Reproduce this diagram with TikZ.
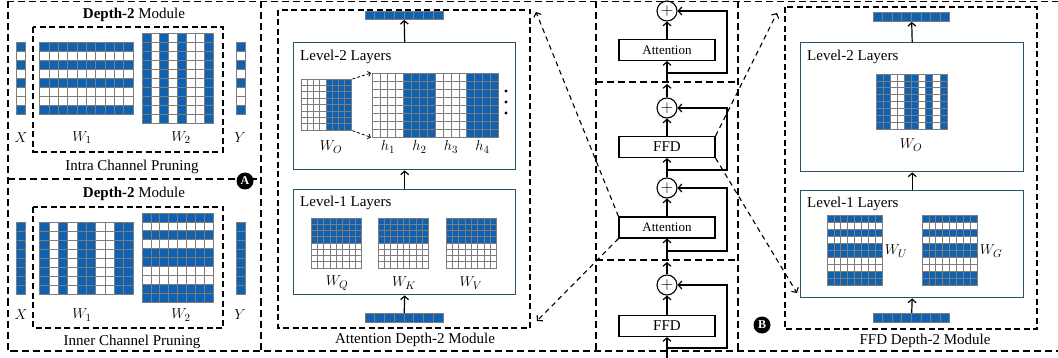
\documentclass[tikz,border=0pt]{standalone}
\usepackage{fontspec}
\setmainfont{Liberation Serif}
\usetikzlibrary{arrows.meta,calc}
\definecolor{bl}{RGB}{16,98,176}
\definecolor{cellgray}{RGB}{125,125,125}
\definecolor{boxc}{RGB}{40,82,102}
\newcommand\rowgrid[6]{%
 \foreach \gcol [count=\gi from 0] in {#6}{%
  \foreach \gj in {1,...,#5}{%
   \draw[cellst,fill=\gcol] ({#1+(\gj-1)*#3},{#2+\gi*#4}) rectangle ++(#3,#4);}}}
\newcommand\colgrid[6]{%
 \foreach \gcol [count=\gi from 0] in {#6}{%
  \foreach \gj in {1,...,#5}{%
   \draw[cellst,fill=\gcol] ({#1+\gi*#3},{#2+(\gj-1)*#4}) rectangle ++(#3,#4);}}}
\tikzset{
 frameln/.style={dash pattern=on 7pt off 4pt, line width=1.4pt},
 innerdash/.style={dash pattern=on 6pt off 3.5pt, line width=1.2pt},
 cellst/.style={draw=cellgray, line width=0.7pt},
 lvl/.style={draw=boxc, line width=1.4pt, fill=white, inner sep=0, anchor=north west},
 blk/.style={draw=black, line width=1.1pt, inner sep=0, minimum width=96pt, minimum height=21pt},
 sumc/.style={circle, draw=black, line width=1.1pt, minimum size=20pt, inner sep=0, font=\fontsize{16}{16}\selectfont},
 arr/.style={-{Straight Barb[length=3.5pt,width=8pt]}, line width=1.2pt},
 darr/.style={-{Straight Barb[length=3.5pt,width=8pt]}, line width=1.1pt, dash pattern=on 5pt off 4pt},
 sdarr/.style={-{Straight Barb[length=2.5pt,width=5pt]}, line width=0.8pt, dash pattern=on 3pt off 2pt},
 txt/.style={inner sep=0, font=\fontsize{15}{18}\selectfont},
 badge/.style={circle, fill=black, text=white, inner sep=0, minimum size=17pt, font=\fontsize{12}{12}\selectfont\bfseries},
 ghost/.style={inner sep=0, anchor=north west, draw=none},
}
\begin{document}
\begin{tikzpicture}[x=1pt,y=-1pt]
\useasboundingbox (0,0) rectangle (1058,358);
% ---------- frame ----------
\draw[frameln] (8,1.5) rectangle (1075,351);
\draw[frameln] (8,179) -- (261,179);
\draw[frameln] (261,1.5) -- (261,351);
\draw[frameln] (596,1.5) -- (596,351);
\draw[frameln] (738,1.5) -- (738,351);
\draw[frameln] (596,82) -- (738,82);
\draw[frameln] (596,260) -- (738,260);
% ---------- left panel: intra ----------
\node[txt] (d2a) at (134,15) {\textbf{Depth-2} Module};
\draw[innerdash] (33,27) rectangle (223,152);
\rowgrid{16.5}{42}{8.6}{9.1}{1}{bl,white,bl,white,bl,white,white,bl}
\rowgrid{39.5}{42}{9.35}{9.1}{10}{bl,white,bl,white,bl,white,white,bl}
\colgrid{142}{33}{8.9}{9}{10}{bl,white,bl,white,bl,white,white,bl}
\rowgrid{236.5}{42}{8.6}{9.1}{1}{bl,white,bl,white,bl,white,white,bl}
\node[txt] (x1) at (21,138) {$X$};
\node[txt] (w1a) at (82,138) {$W_1$};
\node[txt] (w2a) at (181,138) {$W_2$};
\node[txt] (y1) at (240,138) {$Y$};
\node[txt] (intra) at (132,167) {Intra Channel Pruning};
% ---------- left panel: inner ----------
\node[txt] (d2b) at (134,194) {\textbf{Depth-2} Module};
\draw[innerdash] (33,207) rectangle (223,328);
\rowgrid{16.5}{222}{8.6}{9.1}{1}{bl,bl,bl,bl,bl,bl,bl,bl}
\colgrid{39.5}{222}{9.35}{9.1}{8}{bl,white,bl,white,bl,bl,white,white,bl,bl}
\rowgrid{142}{213}{8.9}{8.9}{8}{bl,white,bl,white,bl,bl,white,white,bl,bl}
\rowgrid{236.5}{222}{8.6}{9.1}{1}{bl,bl,bl,bl,bl,bl,bl,bl}
\node[txt] (x2) at (21,315) {$X$};
\node[txt] (w1b) at (82,315) {$W_1$};
\node[txt] (w2b) at (181,315) {$W_2$};
\node[txt] (y2) at (240,315) {$Y$};
\node[txt] (inner) at (132,342) {Inner Channel Pruning};
\node[badge] (bA) at (245,181) {A};
% ---------- attention panel ----------
\draw[innerdash] (278,10) rectangle (530,328);
\node[txt] (aLab) at (415,340) {Attention Depth-2 Module};
\node[ghost, minimum width=78pt, minimum height=8.5pt] (aTop) at (365,11) {};
\rowgrid{365}{11}{9.75}{8.5}{8}{bl}
\node[lvl, minimum width=222pt, minimum height=127pt] (aL2) at (293,42) {};
\node[txt, anchor=west] (aL2t) at (300,57) {Level-2 Layers};
\node[ghost, minimum width=50pt, minimum height=51.2pt] (aWO) at (301,79) {};
\colgrid{301}{79}{6.25}{6.4}{8}{white,white,white,white,bl,bl,bl,bl}
\node[ghost, minimum width=126.4pt, minimum height=64pt] (aH) at (372,73) {};
\colgrid{372}{73}{7.9}{8}{8}{white,white,white,white,bl,bl,bl,bl,white,white,white,white,bl,bl,bl,bl}
\draw[sdarr] ([xshift=1pt]aWO.north east) -- ([xshift=-1pt]aH.north west);
\draw[sdarr] ([xshift=1pt]aWO.south east) -- ([xshift=-1pt]aH.south west);
\fill (506,91) circle (1.7);
\fill (506,102) circle (1.7);
\fill (506,113) circle (1.7);
\node[txt] (aWOl) at (331,147) {$W_O$};
\node[txt] (h1) at (388,147) {$h_1$};
\node[txt] (h2) at (419.5,147) {$h_2$};
\node[txt] (h3) at (451,147) {$h_3$};
\node[txt] (h4) at (482.5,147) {$h_4$};
\node[lvl, minimum width=222pt, minimum height=105pt] (aL1) at (293,189) {};
\node[txt, anchor=west] (aL1t) at (300,203) {Level-1 Layers};
\rowgrid{311}{218}{6.35}{6.25}{8}{bl,bl,bl,bl,white,white,white,white}
\rowgrid{378}{218}{6.35}{6.25}{8}{bl,bl,bl,bl,white,white,white,white}
\rowgrid{446}{218}{6.35}{6.25}{8}{bl,bl,bl,bl,white,white,white,white}
\node[txt] (wq) at (337,283) {$W_Q$};
\node[txt] (wk) at (404,283) {$W_K$};
\node[txt] (wv) at (471,283) {$W_V$};
\node[ghost, minimum width=78pt, minimum height=9pt] (aBot) at (365,313) {};
\rowgrid{365}{313}{9.75}{9}{8}{bl}
\draw[arr] (aL2.north) -- (aTop.south);
\draw[arr] (aL1.north) -- (aL2.south);
\draw[arr] (aBot.north) -- (aL1.south);
% ---------- center column ----------
\node[sumc] (s1) at (667,11) {$+$};
\node[blk, font=\fontsize{13}{15}\selectfont] (att1) at (667,50) {Attention};
\node[sumc] (s2) at (667,108) {$+$};
\node[blk, font=\fontsize{15}{18}\selectfont] (ffd1) at (667,147) {FFD};
\node[sumc] (s3) at (667,188) {$+$};
\node[blk, font=\fontsize{13}{15}\selectfont] (att2) at (667,227.5) {Attention};
\node[sumc] (s4) at (667,285) {$+$};
\node[blk, font=\fontsize{15}{18}\selectfont] (ffd2) at (667,326) {FFD};
\coordinate (cut1) at (667,82);
\coordinate (cut1b) at (667,84);
\coordinate (cut2) at (667,260);
\coordinate (cut2b) at (667,262);
\coordinate (bot) at (667,358);
\coordinate (br1) at (667,73);
\coordinate (br2) at (667,170);
\coordinate (br3) at (667,251);
\coordinate (br4) at (667,348);
\draw[arr] (att1) -- (s1);
\draw[arr] (cut1) -- (att1.south);
\draw[arr] (s2) -- (cut1b);
\draw[arr] (br1) -- ++(60,0) |- (s1.east);
\draw[arr] (ffd1) -- (s2);
\draw[arr] (s3) -- (ffd1);
\draw[arr] (br2) -- ++(60,0) |- (s2.east);
\draw[arr] (att2) -- (s3);
\draw[arr] (cut2) -- (att2.south);
\draw[arr] (s4) -- (cut2b);
\draw[arr] (br3) -- ++(60,0) |- (s3.east);
\draw[arr] (ffd2) -- (s4);
\draw[arr] (bot) -- (ffd2.south);
\draw[arr] (br4) -- ++(60,0) |- (s4.east);
\node[badge] (bB) at (762,325) {B};
% dashed zoom connectors
\coordinate (tA1) at (536,12);
\coordinate (tA2) at (537,321);
\coordinate (tF1) at (777,13);
\coordinate (tF2) at (797,293);
\draw[darr] (att2.north west) -- (tA1);
\draw[darr] (att2.south west) -- (tA2);
\draw[darr] (ffd1.north east) -- (tF1);
\draw[darr] (ffd1.south east) -- (tF2);
% ---------- FFD panel ----------
\draw[innerdash] (785,7) rectangle (1037,329);
\node[txt] (fLab) at (925,341) {FFD Depth-2 Module};
\node[ghost, minimum width=77pt, minimum height=9.5pt] (fTop) at (873,12) {};
\rowgrid{873}{12}{9.6}{9.5}{8}{bl}
\node[lvl, minimum width=223pt, minimum height=129pt] (fL2) at (800,42) {};
\node[txt, anchor=west] (fL2t) at (807,57) {Level-2 Layers};
\colgrid{876}{74}{7.1}{6.9}{8}{bl,bl,white,white,bl,bl,white,bl,white,bl}
\node[txt] (fWO) at (911,145) {$W_O$};
\node[lvl, minimum width=223pt, minimum height=107pt] (fL1) at (800,190) {};
\node[txt, anchor=west] (fL1t) at (807,204) {Level-1 Layers};
\rowgrid{827}{215}{6.9}{7}{8}{bl,white,bl,white,bl,bl,white,white,bl,bl}
\rowgrid{922}{215}{6.9}{7}{8}{bl,white,bl,white,bl,bl,white,white,bl,bl}
\node[txt] (wu) at (896,251) {$W_U$};
\node[txt] (wg) at (991,251) {$W_G$};
\node[ghost, minimum width=77pt, minimum height=9pt] (fBot) at (873,313) {};
\rowgrid{873}{313}{9.6}{9}{8}{bl}
\draw[arr] (fL2.north) -- (fTop.south);
\draw[arr] (fL1.north) -- (fL2.south);
\draw[arr] (fBot.north) -- (fL1.south);
\end{tikzpicture}
\end{document}
